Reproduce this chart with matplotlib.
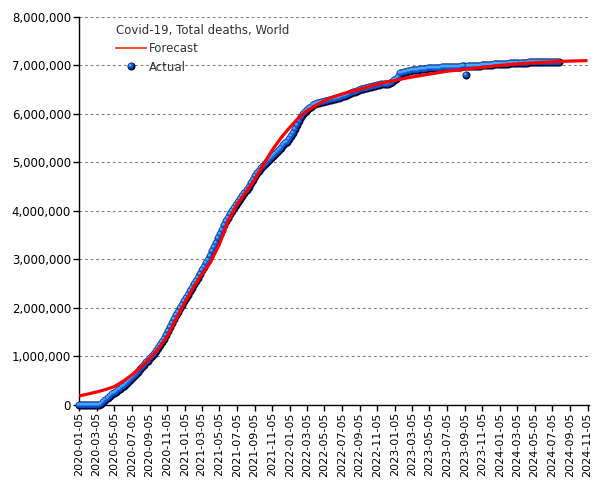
import numpy as np
import pandas as pd
import matplotlib
matplotlib.use("Agg")
import matplotlib.pyplot as plt
from matplotlib.path import Path
from matplotlib.lines import Line2D
from matplotlib.legend_handler import HandlerTuple
from matplotlib.ticker import FuncFormatter, MultipleLocator

# Actual: weekly totals (thousands), first week 2020-01-05
actual_start = "2020-01-05"
actual_k = [
    0, 0, 0, 0, 0, 0, 0, 0, 0, 0, 0,
    20, 60, 100, 140, 180, 210, 240, 270, 300, 330,
    360, 390, 420, 460, 500, 540, 580, 630, 680, 730,
    780, 820, 870, 910, 960, 1000, 1050, 1100, 1160, 1220,
    1290, 1360, 1440, 1520, 1600, 1680, 1760, 1840, 1920, 1990,
    2060, 2130, 2200, 2270, 2340, 2410, 2480, 2550, 2620, 2690,
    2770, 2850, 2920, 2990, 3070, 3160, 3250, 3340, 3430, 3520,
    3610, 3700, 3780, 3860, 3930, 4000, 4060, 4120, 4180, 4240,
    4300, 4360, 4430, 4500, 4570, 4640, 4710, 4770, 4830, 4880,
    4930, 4970, 5010, 5050, 5090, 5130, 5170, 5210, 5250, 5300,
    5350, 5390, 5430, 5480, 5540, 5610, 5690, 5770, 5850, 5930,
    5990, 6040, 6080, 6120, 6150, 6180, 6200, 6220, 6230, 6240,
    6250, 6260, 6270, 6280, 6290, 6300, 6310, 6320, 6330, 6340,
    6360, 6370, 6390, 6410, 6430, 6450, 6460, 6480, 6490, 6510,
    6520, 6530, 6540, 6550, 6560, 6570, 6580, 6590, 6600, 6610,
    6610, 6620, 6620, 6630, 6650, 6690, 6730, 6760, 6840, 6850,
    6860, 6870, 6880, 6890, 6900, 6905, 6910, 6915, 6920, 6925,
    6930, 6935, 6940, 6940, 6945, 6950, 6950, 6955, 6955, 6960,
    6960, 6965, 6965, 6970, 6970, 6970, 6975, 6975, 6975, 6980,
    6980, 6800, 6980, 6985, 6985, 6990, 6990, 6990, 6995, 7000,
    7000, 7005, 7010, 7010, 7015, 7020, 7020, 7025, 7030, 7030,
    7035, 7040, 7040, 7045, 7045, 7050, 7050, 7055, 7055, 7060,
    7060, 7060, 7065, 7065, 7065, 7070, 7070, 7070, 7070, 7075,
    7075, 7075, 7075, 7080, 7080, 7080, 7080, 7080,
]

# Forecast: monthly (thousands), 2020-01-05 .. 2024-11-05
forecast_start = "2020-01-05"
forecast_k = [
    180, 220, 260, 310, 370, 480, 610, 770, 950, 1150, 1400, 1750,   # 2020
    2100, 2420, 2680, 2940, 3300, 3780, 4120, 4380, 4640, 4950, 5250, 5500,  # 2021
    5720, 5920, 6060, 6170, 6270, 6350, 6410, 6460, 6510, 6560, 6610, 6650,  # 2022
    6690, 6730, 6760, 6790, 6820, 6850, 6880, 6900, 6920, 6940, 6960, 6980,  # 2023
    7000, 7020, 7030, 7045, 7055, 7065, 7075, 7085, 7090, 7095, 7100,        # 2024
]

xtick_dates = pd.date_range("2020-01-05", "2024-11-05", freq=pd.DateOffset(months=2))
xlim = (pd.Timestamp("2020-01-05"), pd.Timestamp("2024-11-10"))

actual_dates = pd.date_range(actual_start, periods=len(actual_k), freq="7D")
actual = np.array(actual_k) * 1000
forecast_dates = pd.date_range(forecast_start, periods=len(forecast_k), freq=pd.DateOffset(months=1))
forecast = np.array(forecast_k) * 1000


def ball_part(cx, cy, r):
    # circle sub-path plus a lone anchor point so marker scaling stays fixed
    t = np.linspace(0, 2 * np.pi, 41)
    verts = [(0.5, 0.5)] + list(zip(cx + r * np.cos(t), cy + r * np.sin(t)))
    codes = [Path.MOVETO, Path.MOVETO] + [Path.LINETO] * 39 + [Path.CLOSEPOLY]
    return Path(verts, codes)


ball_layers = [
    ("o", "#020a3c"),
    (ball_part(-0.08, 0.08, 0.36), "#0f55d0"),
    (ball_part(-0.17, 0.17, 0.18), "#4aa6ff"),
]
MS = 5.8

fig = plt.figure(figsize=(6.05, 4.8), dpi=100)
ax = fig.add_axes([79.3 / 605, 75.4 / 480, (589 - 79.3) / 605, (404.6 - 17) / 480])

for z, (m, c) in enumerate(ball_layers):
    ax.plot(actual_dates, actual, linestyle="none", marker=m, ms=MS, mfc=c,
            mec="none", clip_on=False, zorder=3 + z)

ax.plot(forecast_dates, forecast, color="#ff0000", lw=2.3, zorder=7,
        solid_capstyle="butt")

ax.set_xlim(*xlim)
ax.set_ylim(0, 8000000)
ax.yaxis.set_major_locator(MultipleLocator(1000000))
ax.yaxis.set_major_formatter(FuncFormatter(lambda v, p: f"{v:,.0f}"))
ax.set_xticks(xtick_dates)
ax.set_xticklabels([d.strftime("%Y-%m-%d") for d in xtick_dates], rotation=90)

ax.grid(axis="y", color="#808080", lw=0.8, linestyle=(0, (2.5, 2.5)))
ax.set_axisbelow(True)
for s in ["top", "right"]:
    ax.spines[s].set_visible(False)
for s in ["left", "bottom"]:
    ax.spines[s].set_linewidth(1.0)
ax.tick_params(axis="both", length=4, width=1, color="black", labelcolor="black")
ax.tick_params(axis="y", pad=2, labelsize=8.5)
ax.tick_params(axis="x", pad=1.5, labelsize=8)

handles = [
    Line2D([], [], color="#ff2a00", lw=1.2),
    tuple(Line2D([], [], linestyle="none", marker=m, ms=MS, mfc=c, mec="none")
          for m, c in ball_layers),
]
leg = ax.legend(handles, ["Forecast", "Actual"], title="Covid-19, Total deaths, World",
                loc="upper left", bbox_to_anchor=(116 / 605, 1 - 24 / 480),
                bbox_transform=fig.transFigure, frameon=False, fontsize=8.5,
                title_fontsize=8.5, alignment="left", borderpad=0, borderaxespad=0,
                handlelength=2.55, handletextpad=0.25, labelspacing=0.45,
                labelcolor="#333333", handler_map={tuple: HandlerTuple(ndivide=1)})
leg.get_title().set_color("#333333")

fig.savefig("out.png", dpi=100)
